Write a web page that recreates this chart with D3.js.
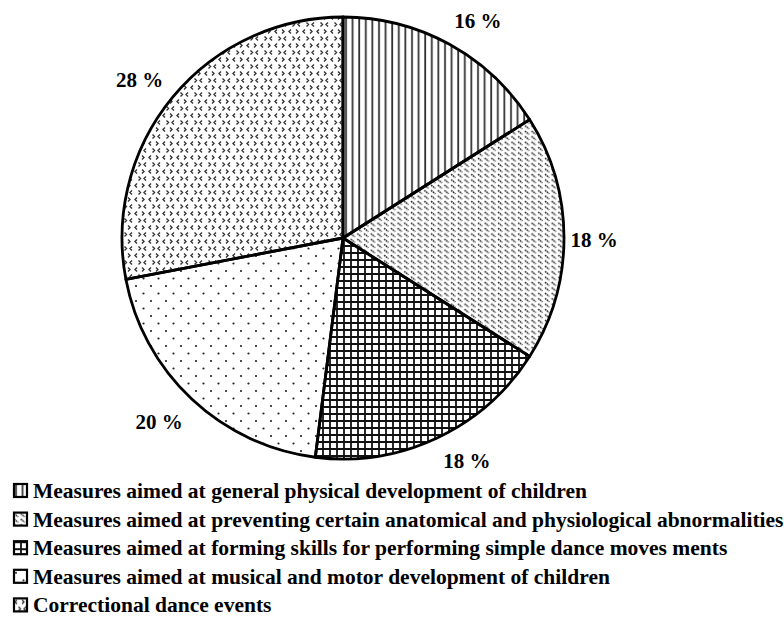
<!DOCTYPE html>
<html>
<head>
<meta charset="utf-8">
<script src="https://cdn.jsdelivr.net/npm/d3@7"></script>
<style>
  body { margin: 0; background: #fff; }
  text { font-family: "Liberation Serif", "Times New Roman", serif; font-weight: bold; }
</style>
</head>
<body>
<div id="chart"></div>
<script>
var categories = [
  "Measures aimed at general physical development of children",
  "Measures aimed at preventing certain anatomical and physiological abnormalities",
  "Measures aimed at forming skills for performing simple dance moves ments",
  "Measures aimed at musical and motor development of children",
  "Correctional dance events"
];
var shares = [16, 18, 18, 20, 28];
var labels = ["16 %", "18 %", "18 %", "20 %", "28 %"];
var patterns = ["vlines", "diag", "grid", "dots", "chev"];

var width = 784, height = 623;
var cx = 343, cy = 238, radius = 221;

var svg = d3.select("#chart").append("svg")
  .attr("width", width)
  .attr("height", height);

var defs = svg.append("defs");

// vertical lines
var p = defs.append("pattern").attr("id", "vlines")
  .attr("patternUnits", "userSpaceOnUse").attr("width", 6.6).attr("height", 10);
p.append("line").attr("x1", 3).attr("x2", 3).attr("y1", 0).attr("y2", 10)
  .attr("stroke", "#333").attr("stroke-width", 1.8);

// short diagonal dashes
p = defs.append("pattern").attr("id", "diag")
  .attr("patternUnits", "userSpaceOnUse").attr("width", 6.7).attr("height", 5.4);
p.append("line").attr("x1", 1).attr("y1", 1).attr("x2", 5.2).attr("y2", 4.4)
  .attr("stroke", "#222").attr("stroke-width", 1.5).attr("stroke-dasharray", "1.6,0.7");

// grid
p = defs.append("pattern").attr("id", "grid")
  .attr("patternUnits", "userSpaceOnUse").attr("width", 7).attr("height", 7);
p.append("path").attr("d", "M1,0V7M0,1H7")
  .attr("stroke", "#111").attr("stroke-width", 1.8);

// staggered dots
p = defs.append("pattern").attr("id", "dots")
  .attr("patternUnits", "userSpaceOnUse").attr("width", 15).attr("height", 15);
p.append("circle").attr("cx", 3).attr("cy", 3).attr("r", 1.1).attr("fill", "#222");
p.append("circle").attr("cx", 10.5).attr("cy", 10.5).attr("r", 1.1).attr("fill", "#222");

// small chevrons
p = defs.append("pattern").attr("id", "chev")
  .attr("patternUnits", "userSpaceOnUse").attr("width", 14).attr("height", 14);
p.append("path").attr("d",
  "M4,1.5L2,3.5L4,5.5" + "M9,1.5L11,3.5L9,5.5" +
  "M5.5,8.5L7.5,10.5L5.5,12.5" + "M13,8.5L11,10.5L13,12.5")
  .attr("fill", "none").attr("stroke", "#333").attr("stroke-width", 1.4);

var pie = d3.pie().sort(null).value(function (d) { return d; });
var arcs = pie(shares);

var arc = d3.arc().innerRadius(0).outerRadius(radius);

var g = svg.append("g").attr("transform", "translate(" + cx + "," + cy + ")");

g.selectAll("path.slice")
  .data(arcs)
  .enter()
  .append("path")
  .attr("class", "slice")
  .attr("d", arc)
  .attr("fill", function (d, i) { return "url(#" + patterns[i] + ")"; })
  .attr("stroke", "#000")
  .attr("stroke-width", 2.8)
  .attr("stroke-linejoin", "round");

// label positions outside the pie
var labelArc = d3.arc().innerRadius(radius + 30).outerRadius(radius + 30);
var labelNudge = [[14, 3], [0, 2], [17, -4], [-12, 1], [-10, 2]];

g.selectAll("text.pct")
  .data(arcs)
  .enter()
  .append("text")
  .attr("class", "pct")
  .attr("x", function (d, i) { return labelArc.centroid(d)[0] + labelNudge[i][0]; })
  .attr("y", function (d, i) { return labelArc.centroid(d)[1] + labelNudge[i][1]; })
  .attr("text-anchor", "middle")
  .attr("dy", "0.35em")
  .attr("font-size", 21)
  .text(function (d, i) { return labels[i]; });

// legend
var legend = svg.append("g").attr("transform", "translate(13,484)");
var rowH = 28.6;

var rows = legend.selectAll("g.row")
  .data(categories)
  .enter()
  .append("g")
  .attr("class", "row")
  .attr("transform", function (d, i) { return "translate(0," + (i * rowH) + ")"; });

rows.append("rect")
  .attr("x", 1).attr("y", 0)
  .attr("width", 13).attr("height", 13)
  .attr("fill", function (d, i) { return "url(#" + patterns[i] + ")"; })
  .attr("stroke", "#000")
  .attr("stroke-width", 2.2);

rows.append("text")
  .attr("x", 20)
  .attr("y", 14)
  .attr("font-size", 21.5)
  .text(function (d) { return d; });
</script>
</body>
</html>
